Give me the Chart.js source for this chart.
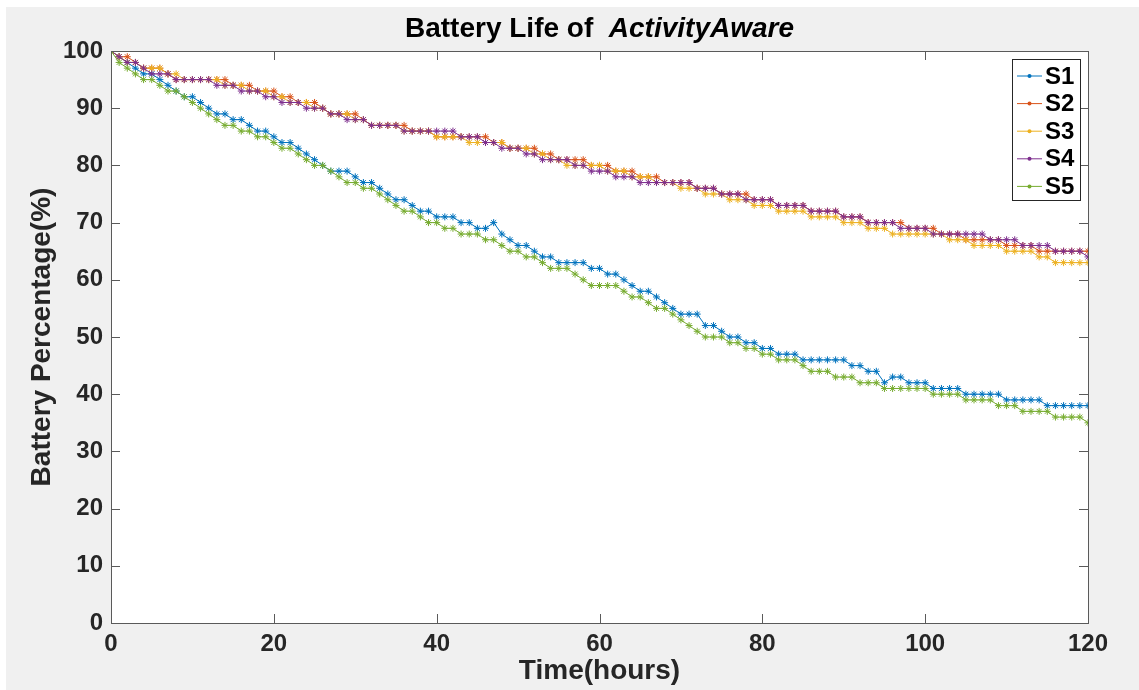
<!DOCTYPE html>
<html><head><meta charset="utf-8">
<script src="https://cdn.jsdelivr.net/npm/chart.js@4.4.1/dist/chart.umd.min.js"></script>
<style>html,body{margin:0;padding:0;background:#fff}#wrap{width:1139px;height:690px;position:relative}</style>
</head><body><div id="wrap"><canvas id="c" width="1139" height="690"></canvas></div>
<script>
const hours = [0,1,2,3,4,5,6,7,8,9,10,11,12,13,14,15,16,17,18,19,20,21,22,23,24,25,26,27,28,29,30,31,32,33,34,35,36,37,38,39,40,41,42,43,44,45,46,47,48,49,50,51,52,53,54,55,56,57,58,59,60,61,62,63,64,65,66,67,68,69,70,71,72,73,74,75,76,77,78,79,80,81,82,83,84,85,86,87,88,89,90,91,92,93,94,95,96,97,98,99,100,101,102,103,104,105,106,107,108,109,110,111,112,113,114,115,116,117,118,119,120];
const seriesNames = ["S1","S2","S3","S4","S5"];
const s1 = [100,99,98,97,96,96,95,94,93,92, 92,91,90,89,89,88,88,87,86,86, 85,84,84,83,82,81,80,79,79,79, 78,77,77,76,75,74,74,73,72,72, 71,71,71,70,70,69,69,70,68,67, 66,66,65,64,64,63,63,63,63,62, 62,61,61,60,59,58,58,57,56,55, 54,54,54,52,52,51,50,50,49,49, 48,48,47,47,47,46,46,46,46,46, 46,45,45,44,44,42,43,43,42,42, 42,41,41,41,41,40,40,40,40,40, 39,39,39,39,39,38,38,38,38,38, 38];
const s2 = [100,99,99,98,97,97,97,96,95,95, 95,95,95,95,95,94,94,94,93,93, 93,92,92,91,91,91,90,89,89,89, 89,88,87,87,87,87,87,86,86,86, 85,85,85,85,85,85,85,84,84,83, 83,83,83,82,82,81,81,81,81,80, 80,80,79,79,79,78,78,78,77,77, 77,77,76,76,76,75,75,75,75,74, 74,74,73,73,73,73,72,72,72,72, 71,71,71,70,70,70,70,70,69,69, 69,69,68,68,68,67,67,67,67,67, 66,66,66,66,65,65,65,65,65,65, 65];
const s3 = [100,99,98,98,97,97,97,96,96,95, 95,95,95,95,94,94,94,93,93,93, 92,92,91,91,91,90,90,89,89,89, 88,88,87,87,87,87,86,86,86,86, 85,85,85,85,84,84,84,84,84,83, 83,83,82,82,81,81,80,80,80,80, 80,79,79,79,78,78,78,77,77,77, 76,76,76,75,75,75,74,74,74,73, 73,73,72,72,72,72,71,71,71,71, 70,70,70,69,69,69,68,68,68,68, 68,68,68,67,67,67,66,66,66,66, 65,65,65,65,64,64,63,63,63,63, 63];
const s4 = [100,99,98,98,97,96,96,96,95,95, 95,95,95,94,94,94,93,93,93,92, 92,91,91,91,90,90,90,89,89,88, 88,88,87,87,87,87,86,86,86,86, 86,86,86,85,85,85,84,84,83,83, 83,82,82,81,81,81,81,80,80,79, 79,79,78,78,78,77,77,77,77,77, 77,77,76,76,76,75,75,75,74,74, 74,74,73,73,73,73,72,72,72,72, 71,71,71,70,70,70,70,69,69,69, 69,68,68,68,68,68,68,68,67,67, 67,67,66,66,66,66,65,65,65,65, 64];
const s5 = [100,98,97,96,95,95,94,93,93,92, 91,90,89,88,87,87,86,86,85,85, 84,83,83,82,81,80,80,79,78,77, 77,76,76,75,74,73,72,72,71,70, 70,69,69,68,68,68,67,67,66,65, 65,64,64,63,62,62,62,61,60,59, 59,59,59,58,57,57,56,55,55,54, 53,52,51,50,50,50,49,49,48,48, 47,47,46,46,46,45,44,44,44,43, 43,43,42,42,42,41,41,41,41,41, 41,40,40,40,40,39,39,39,39,38, 38,38,37,37,37,37,36,36,36,36, 35];
const xTicks = [0,20,40,60,80,100,120];
const yTicks = [0,10,20,30,40,50,60,70,80,90,100];
const titleMain = "Battery Life of  ";
const titleItalic = "ActivityAware";
const xTitle = "Time(hours)";
const yTitle = "Battery Percentage(%)";

const colors = ["#0072BD","#D95319","#EDB120","#7E2F8E","#77AC30"];
const allSeries = [s1,s2,s3,s4,s5];
const FONT = "'Liberation Sans', Arial, Helvetica, sans-serif";

const datasets = allSeries.map((arr,i)=>({
  label: seriesNames[i],
  data: hours.map((h,j)=>({x:h,y:arr[j]})),
  borderColor: colors[i],
  backgroundColor: colors[i],
  borderWidth: 1,
  pointStyle: 'star',
  pointRadius: 3.5,
  pointBorderWidth: 1,
  pointBorderColor: colors[i],
  tension: 0,
  fill: false,
  order: 5 - i
}));

const decor = {
  id: 'decor',
  beforeDraw(chart){
    const ctx = chart.ctx, a = chart.chartArea;
    ctx.save();
    ctx.fillStyle = '#ffffff';
    ctx.fillRect(0,0,chart.width,chart.height);
    ctx.fillStyle = '#f0f0f0';
    ctx.fillRect(6,7,chart.width-6,chart.height-7);
    ctx.fillStyle = '#ffffff';
    ctx.fillRect(a.left,a.top,a.right-a.left,a.bottom-a.top);
    ctx.restore();
  },
  afterDraw(chart){
    const ctx = chart.ctx, a = chart.chartArea;
    const xs = chart.scales.x, ys = chart.scales.y;
    ctx.save();
    // box
    ctx.strokeStyle = '#5a5a5a';
    ctx.lineWidth = 1;
    ctx.strokeRect(Math.round(a.left)+0.5, Math.round(a.top)+0.5, Math.round(a.right-a.left), Math.round(a.bottom-a.top));
    // inward ticks
    const tl = 9;
    ctx.beginPath();
    yTicks.forEach(v=>{
      const y = Math.round(ys.getPixelForValue(v))+0.5;
      ctx.moveTo(a.left, y); ctx.lineTo(a.left+tl, y);
      ctx.moveTo(a.right, y); ctx.lineTo(a.right-tl, y);
    });
    xTicks.forEach(v=>{
      const x = Math.round(xs.getPixelForValue(v))+0.5;
      ctx.moveTo(x, a.bottom); ctx.lineTo(x, a.bottom-tl);
      ctx.moveTo(x, a.top); ctx.lineTo(x, a.top+tl);
    });
    ctx.stroke();
    // title
    ctx.fillStyle = '#000000';
    ctx.textBaseline = 'middle';
    ctx.textAlign = 'left';
    const f1 = "bold 28px " + FONT, f2 = "italic bold 28px " + FONT;
    ctx.font = f1; const w1 = ctx.measureText(titleMain).width;
    ctx.font = f2; const w2 = ctx.measureText(titleItalic).width;
    const cx = (a.left+a.right)/2;
    let sx = cx - (w1+w2)/2;
    ctx.font = f1; ctx.fillText(titleMain, sx, 29);
    ctx.font = f2; ctx.fillText(titleItalic, sx+w1, 29);
    // axis titles
    ctx.fillStyle = '#262626';
    ctx.font = "bold 28px " + FONT;
    ctx.textAlign = 'center';
    ctx.fillText(xTitle, cx, 671);
    ctx.save();
    ctx.translate(42, (a.top+a.bottom)/2);
    ctx.rotate(-Math.PI/2);
    ctx.fillText(yTitle, 0, 0);
    ctx.restore();
    // legend
    const lx = 1012, ly = 59, lw = 68, lh = 141;
    ctx.fillStyle = '#ffffff';
    ctx.fillRect(lx, ly, lw, lh);
    ctx.strokeStyle = '#262626';
    ctx.lineWidth = 1;
    ctx.strokeRect(lx+0.5, ly+0.5, lw, lh);
    ctx.font = "bold 24px " + FONT;
    ctx.textAlign = 'left';
    ctx.textBaseline = 'middle';
    seriesNames.forEach((n,i)=>{
      const y = 76 + i*27.6;
      ctx.strokeStyle = colors[i];
      ctx.lineWidth = 1;
      ctx.beginPath(); ctx.moveTo(1017, y); ctx.lineTo(1042, y); ctx.stroke();
      ctx.fillStyle = colors[i];
      ctx.beginPath(); ctx.arc(1029.5, y, 2, 0, Math.PI*2); ctx.fill();
      ctx.fillStyle = '#000000';
      ctx.fillText(n, 1045, y+1);
    });
    ctx.restore();
  }
};

new Chart(document.getElementById('c'), {
  type: 'line',
  data: { datasets },
  options: {
    responsive: false,
    devicePixelRatio: 1,
    animation: false,
    layout: { padding: { top: 51, right: 51, left: 0, bottom: 0 } },
    plugins: { legend: { display: false }, title: { display: false }, tooltip: { enabled: false } },
    scales: {
      x: {
        type: 'linear', min: 0, max: 120,
        afterFit(s){ s.height = 67; },
        afterBuildTicks(s){ s.ticks = xTicks.map(v=>({value:v})); },
        grid: { display: false, drawTicks: false },
        border: { display: false },
        ticks: { color: '#262626', padding: 7, maxRotation: 0, font: { family: FONT, size: 24, weight: 'bold' } }
      },
      y: {
        type: 'linear', min: 0, max: 100,
        afterFit(s){ s.width = 111; },
        afterBuildTicks(s){ s.ticks = yTicks.map(v=>({value:v})); },
        grid: { display: false, drawTicks: false },
        border: { display: false },
        ticks: { color: '#262626', padding: 8, font: { family: FONT, size: 24, weight: 'bold' } }
      }
    }
  },
  plugins: [decor]
});
</script>
</body></html>
